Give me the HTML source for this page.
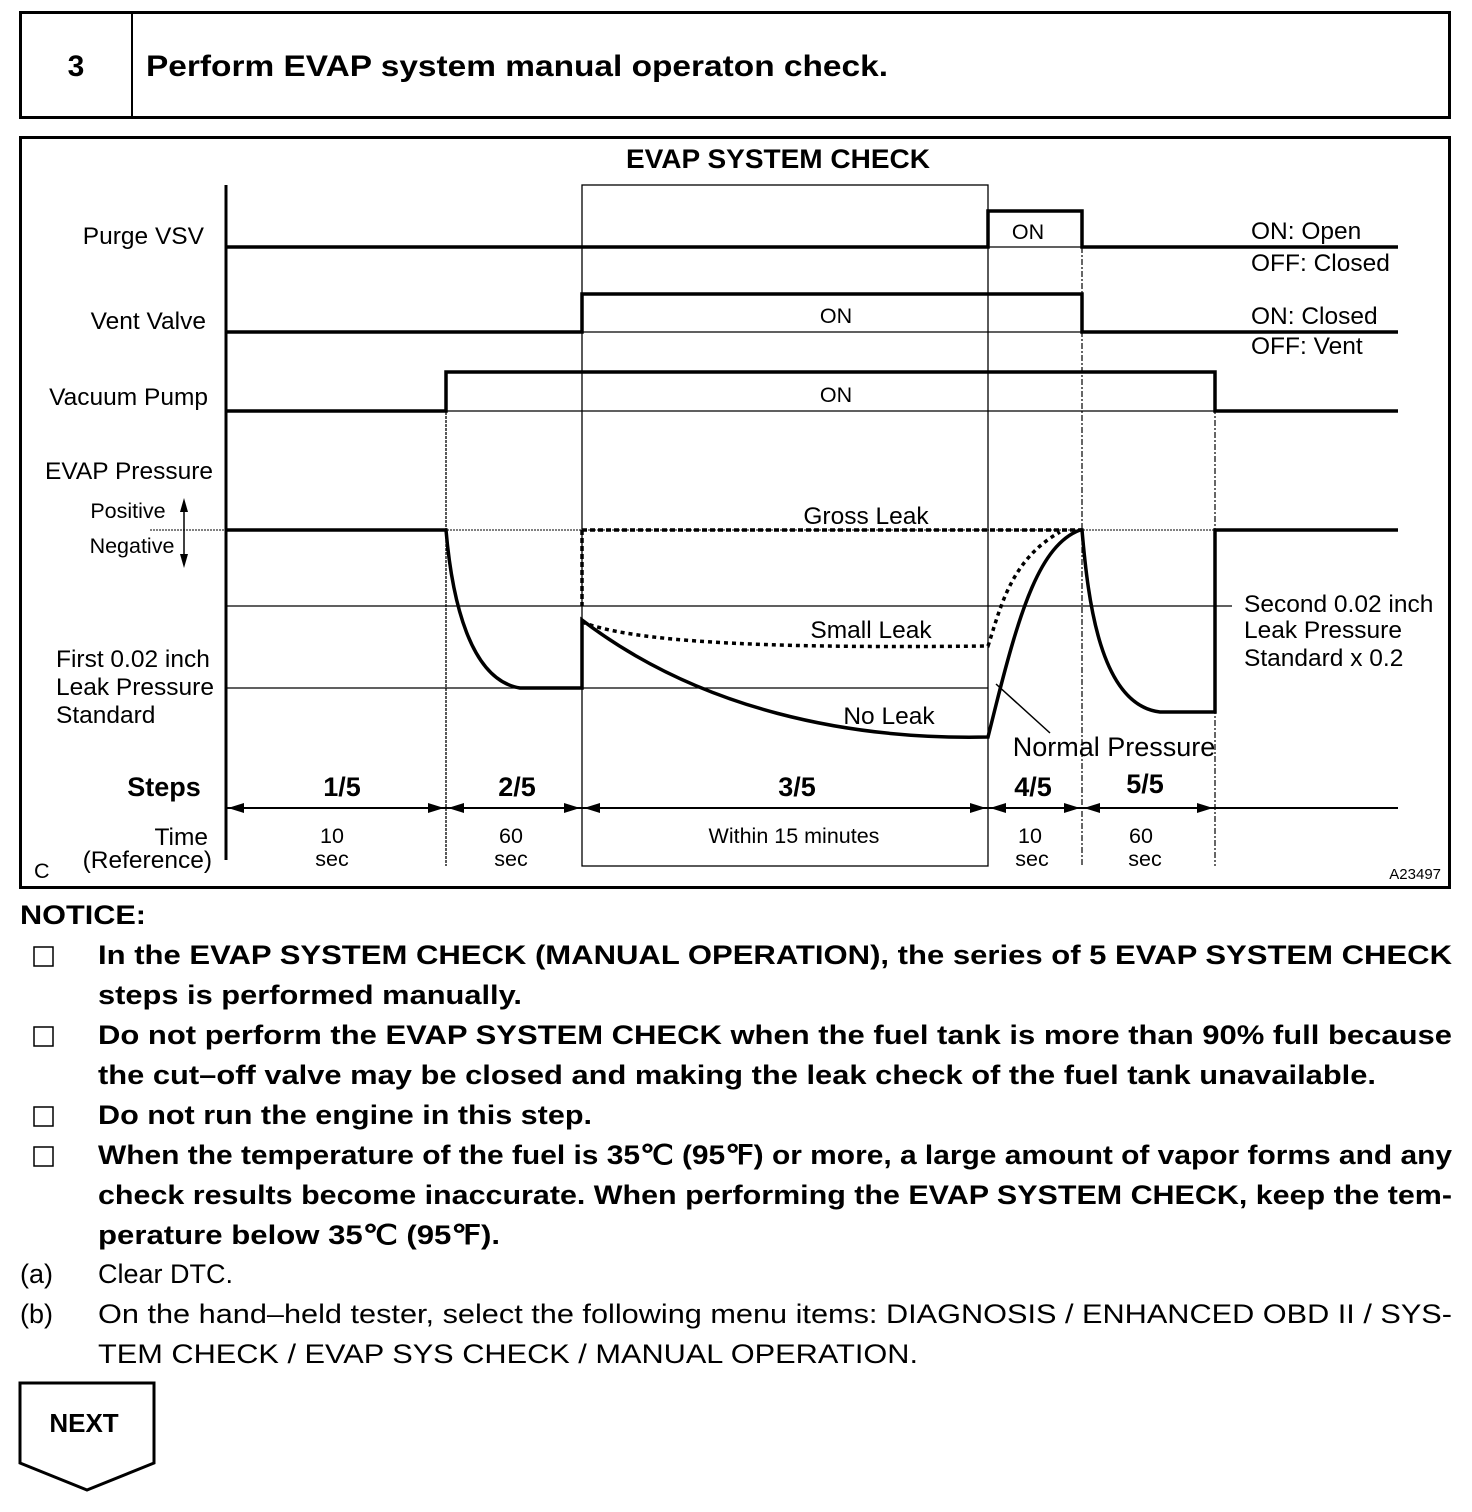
<!DOCTYPE html>
<html><head><meta charset="utf-8"><style>html,body{margin:0;padding:0;background:#fff}svg{display:block}</style></head>
<body>
<svg width="1472" height="1512" viewBox="0 0 1472 1512" xmlns="http://www.w3.org/2000/svg" font-family="Liberation Sans, Arial, sans-serif">
<rect width="1472" height="1512" fill="#fff"/>
<rect x="20.5" y="12.5" width="1429" height="105" fill="none" stroke="#000" stroke-width="3"/>
<line x1="132" y1="12" x2="132" y2="118" stroke="#000" stroke-width="2"/>
<text x="76" y="76" font-size="30" font-weight="bold" text-anchor="middle">3</text>
<text x="146" y="76" font-size="30" font-weight="bold" textLength="742" lengthAdjust="spacingAndGlyphs">Perform EVAP system manual operaton check.</text>
<rect x="20.5" y="137.5" width="1429" height="750" fill="none" stroke="#000" stroke-width="3"/>
<text x="778" y="168" font-size="27" font-weight="bold" text-anchor="middle" textLength="304" lengthAdjust="spacingAndGlyphs">EVAP SYSTEM CHECK</text>
<g stroke="#000" fill="none">
<rect x="582" y="185" width="406" height="681" stroke-width="1.3"/>
<line x1="446" y1="372" x2="446" y2="866" stroke-width="1.3" stroke-dasharray="3 1"/>
<line x1="1082" y1="211" x2="1082" y2="866" stroke-width="1.2" stroke-dasharray="6 2 2 2"/>
<line x1="1215" y1="372" x2="1215" y2="866" stroke-width="1.2" stroke-dasharray="6 2 2 2"/>
<line x1="988" y1="247" x2="1082" y2="247" stroke-width="1.2"/>
<line x1="582" y1="332" x2="1082" y2="332" stroke-width="1.2"/>
<line x1="446" y1="411" x2="1215" y2="411" stroke-width="1.2"/>
<line x1="150" y1="530" x2="1215" y2="530" stroke-width="1" stroke-dasharray="2 1"/>
<line x1="226" y1="606" x2="1232" y2="606" stroke-width="1.2"/>
<line x1="226" y1="688" x2="988" y2="688" stroke-width="1.2"/>
<line x1="226" y1="185" x2="226" y2="860" stroke-width="3"/>
<polyline points="226,247 988,247 988,211 1082,211 1082,247 1398,247" stroke-width="3.5"/>
<polyline points="226,332 582,332 582,294 1082,294 1082,332 1398,332" stroke-width="3.5"/>
<polyline points="226,411 446,411 446,372 1215,372 1215,411 1398,411" stroke-width="3.5"/>
<path d="M226,530 L446,530 C452,600 470,680 520,688 L582,688 L582,620 C700,710 850,740 988,737 L996,705 C1020,610 1040,545 1080,530 L1082,530 C1088,600 1100,705 1160,712 L1215,712 L1215,530 L1398,530" stroke-width="3.5"/>
<path d="M582,530 L1082,530 M582,530 L582,606" stroke-width="3.5" stroke-dasharray="5 3"/>
<path d="M582,622 C640,645 800,648 988,646 C1000,610 1010,560 1060,532" stroke-width="3.5" stroke-dasharray="4 4"/>
<line x1="996" y1="684" x2="1050" y2="733" stroke-width="1.5"/>
<line x1="184" y1="505" x2="184" y2="562" stroke-width="1.5"/>
</g>
<polygon points="184,498 180,512 188,512" fill="#000"/>
<polygon points="184,568 180,554 188,554" fill="#000"/>
<line x1="226" y1="808" x2="1398" y2="808" stroke="#000" stroke-width="2"/>
<g fill="#000">
<polygon points="228,808 244,803 244,813"/><polygon points="444,808 428,803 428,813"/>
<polygon points="448,808 464,803 464,813"/><polygon points="580,808 564,803 564,813"/>
<polygon points="584,808 600,803 600,813"/><polygon points="986,808 970,803 970,813"/>
<polygon points="990,808 1006,803 1006,813"/><polygon points="1080,808 1064,803 1064,813"/>
<polygon points="1084,808 1100,803 1100,813"/><polygon points="1213,808 1197,803 1197,813"/>
</g>
<g font-size="24.5">
<text x="204" y="244" text-anchor="end">Purge VSV</text>
<text x="206" y="329" text-anchor="end">Vent Valve</text>
<text x="208" y="405" text-anchor="end">Vacuum Pump</text>
<text x="213" y="479" text-anchor="end">EVAP Pressure</text>
<text x="56" y="667">First 0.02 inch</text>
<text x="56" y="695">Leak Pressure</text>
<text x="56" y="723">Standard</text>
<text x="208" y="845" text-anchor="end">Time</text>
<text x="212" y="868" text-anchor="end">(Reference)</text>
<text x="1251" y="239">ON: Open</text>
<text x="1251" y="271">OFF: Closed</text>
<text x="1251" y="324">ON: Closed</text>
<text x="1251" y="354">OFF: Vent</text>
<text x="1244" y="612">Second 0.02 inch</text>
<text x="1244" y="638">Leak Pressure</text>
<text x="1244" y="666">Standard x 0.2</text>
<text x="866" y="524" text-anchor="middle">Gross Leak</text>
<text x="871" y="638" text-anchor="middle">Small Leak</text>
<text x="889" y="724" text-anchor="middle">No Leak</text>
<text x="1114" y="756" font-size="27" text-anchor="middle">Normal Pressure</text>
</g>
<g font-size="21.5">
<text x="128" y="518" text-anchor="middle">Positive</text>
<text x="132" y="553" text-anchor="middle">Negative</text>
<text x="1028" y="239" text-anchor="middle">ON</text>
<text x="836" y="323" text-anchor="middle">ON</text>
<text x="836" y="402" text-anchor="middle">ON</text>
<text x="332" y="843" text-anchor="middle">10</text><text x="332" y="866" text-anchor="middle">sec</text>
<text x="511" y="843" text-anchor="middle">60</text><text x="511" y="866" text-anchor="middle">sec</text>
<text x="794" y="843" text-anchor="middle">Within 15 minutes</text>
<text x="1030" y="843" text-anchor="middle">10</text><text x="1032" y="866" text-anchor="middle">sec</text>
<text x="1141" y="843" text-anchor="middle">60</text><text x="1145" y="866" text-anchor="middle">sec</text>
<text x="34" y="878">C</text>
</g>
<text x="1441" y="879" font-size="15" text-anchor="end">A23497</text>
<g font-size="27" font-weight="bold" text-anchor="middle">
<text x="164" y="796">Steps</text>
<text x="342" y="796">1/5</text>
<text x="517" y="796">2/5</text>
<text x="797" y="796">3/5</text>
<text x="1033" y="796">4/5</text>
<text x="1145" y="793">5/5</text>
</g>
<g font-size="27" font-weight="bold">
<text x="20" y="924" textLength="126" lengthAdjust="spacingAndGlyphs">NOTICE:</text>
<text x="98" y="964" textLength="1354" lengthAdjust="spacingAndGlyphs">In the EVAP SYSTEM CHECK (MANUAL OPERATION), the series of 5 EVAP SYSTEM CHECK</text>
<text x="98" y="1004" textLength="424" lengthAdjust="spacingAndGlyphs">steps is performed manually.</text>
<text x="98" y="1044" textLength="1354" lengthAdjust="spacingAndGlyphs">Do not perform the EVAP SYSTEM CHECK when the fuel tank is more than 90% full because</text>
<text x="98" y="1084" textLength="1278" lengthAdjust="spacingAndGlyphs">the cut–off valve may be closed and making the leak check of the fuel tank unavailable.</text>
<text x="98" y="1124" textLength="494" lengthAdjust="spacingAndGlyphs">Do not run the engine in this step.</text>
<text x="98" y="1164" textLength="1354" lengthAdjust="spacingAndGlyphs">When the temperature of the fuel is 35℃ (95℉) or more, a large amount of vapor forms and any</text>
<text x="98" y="1204" textLength="1354" lengthAdjust="spacingAndGlyphs">check results become inaccurate. When performing the EVAP SYSTEM CHECK, keep the tem-</text>
<text x="98" y="1244" textLength="402" lengthAdjust="spacingAndGlyphs">perature below 35℃ (95℉).</text>
</g>
<g fill="none" stroke="#000" stroke-width="1.5">
<rect x="34" y="947" width="19" height="19"/>
<rect x="34" y="1027" width="19" height="19"/>
<rect x="34" y="1107" width="19" height="19"/>
<rect x="34" y="1147" width="19" height="19"/>
</g>
<g font-size="27">
<text x="20" y="1283">(a)</text>
<text x="98" y="1283">Clear DTC.</text>
<text x="20" y="1323">(b)</text>
<text x="98" y="1323" textLength="1354" lengthAdjust="spacingAndGlyphs">On the hand–held tester, select the following menu items: DIAGNOSIS / ENHANCED OBD II / SYS-</text>
<text x="98" y="1363" textLength="820" lengthAdjust="spacingAndGlyphs">TEM CHECK / EVAP SYS CHECK / MANUAL OPERATION.</text>
</g>
<polygon points="20,1383 154,1383 154,1463 87,1490 20,1463" fill="none" stroke="#000" stroke-width="3"/>
<text x="84" y="1432" font-size="26" font-weight="bold" text-anchor="middle">NEXT</text>
</svg>
</body></html>
